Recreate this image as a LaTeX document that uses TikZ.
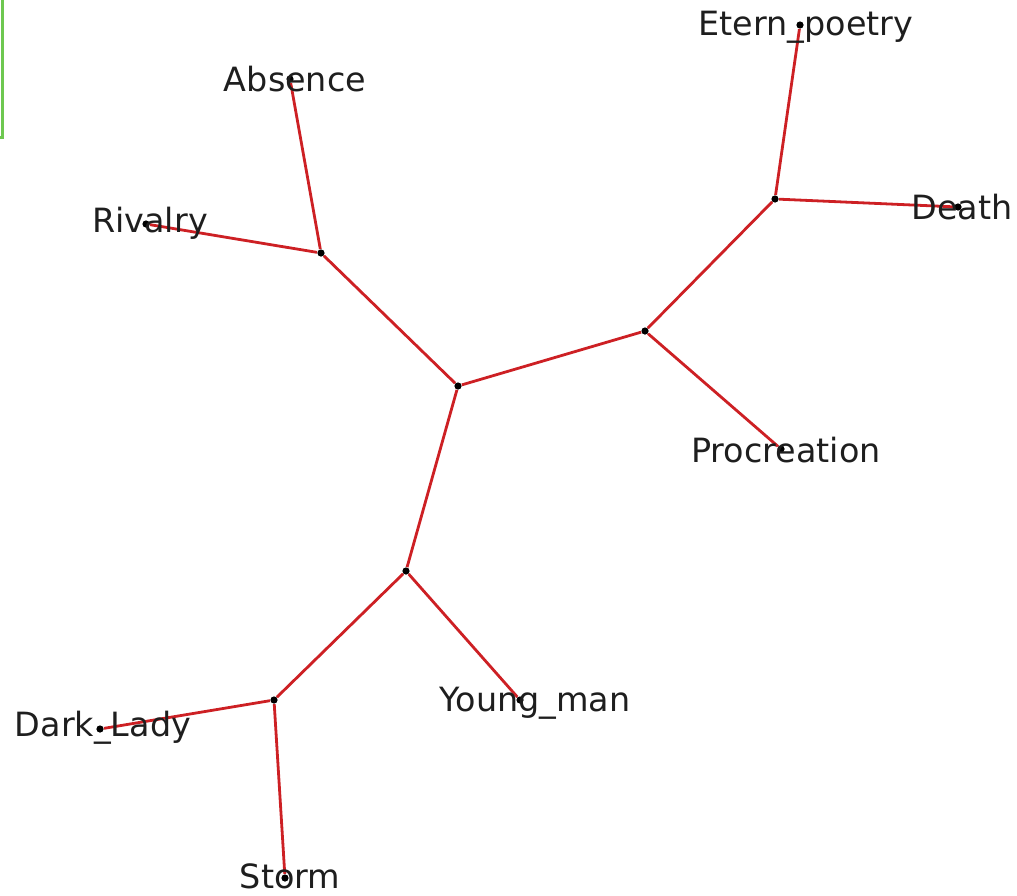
\documentclass[tikz,border=0pt]{standalone}
\usepackage{fontspec}
\setmainfont{DejaVu Sans}
\usepackage{tikz}
\usetikzlibrary{positioning}
\definecolor{edgered}{RGB}{205,32,36}
\definecolor{framegreen}{RGB}{110,200,80}
\definecolor{inkgray}{RGB}{30,30,30}
\tikzset{
  hub/.style  ={circle, fill=black, inner sep=0pt, minimum size=3.6pt},
  lbl/.style  ={inner sep=0pt, text=inkgray, font=\fontsize{16.7}{20}\selectfont},
  link/.style ={draw=edgered, line width=1.4pt},
}
\begin{document}
\begin{tikzpicture}[x=0.5pt,y=-0.5pt]
\useasboundingbox (0,0) rectangle (1017,895);
% frame edge
\draw[framegreen, line width=1.5pt] (2,0) -- (2,137) -- (0,137);

% inner points
\node[hub] (c1) at (458,386) {};
\node[hub] (c2) at (645,331) {};
\node[hub] (c3) at (775,199) {};
\node[hub] (c4) at (321,253) {};
\node[hub] (c5) at (406,571) {};
\node[hub] (c6) at (274,700) {};

% leaves
\node[hub] (etern) at (800,25)  {};
\node[hub] (death) at (958,207) {};
\node[hub] (procr) at (781,449) {};
\node[hub] (absen) at (290,79)  {};
\node[hub] (rival) at (146,224) {};
\node[hub] (young) at (520,700) {};
\node[hub] (dark)  at (100,729) {};
\node[hub] (storm) at (285,878) {};

% links
\draw[link] (c1) -- (c2);
\draw[link] (c2) -- (c3);
\draw[link] (c3) -- (etern);
\draw[link] (c3) -- (death);
\draw[link] (c2) -- (procr);
\draw[link] (c1) -- (c4);
\draw[link] (c4) -- (absen);
\draw[link] (c4) -- (rival);
\draw[link] (c1) -- (c5);
\draw[link] (c5) -- (c6);
\draw[link] (c5) -- (young);
\draw[link] (c6) -- (dark);
\draw[link] (c6) -- (storm);

% labels
\node[lbl] (tetern) at (806,27)  {Etern\_poetry};
\node[lbl] (tdeath) at (962,207) {Death};
\node[lbl] (tprocr) at (786,450) {Procreation};
\node[lbl] (tabsen) at (295,79)  {Absence};
\node[lbl] (trival) at (150,223) {Rivalry};
\node[lbl] (tyoung) at (535,703) {Young\_man};
\node[lbl] (tdark)  at (103,728) {Dark\_Lady};
\node[lbl] (tstorm) at (290,876) {Storm};
\end{tikzpicture}
\end{document}
